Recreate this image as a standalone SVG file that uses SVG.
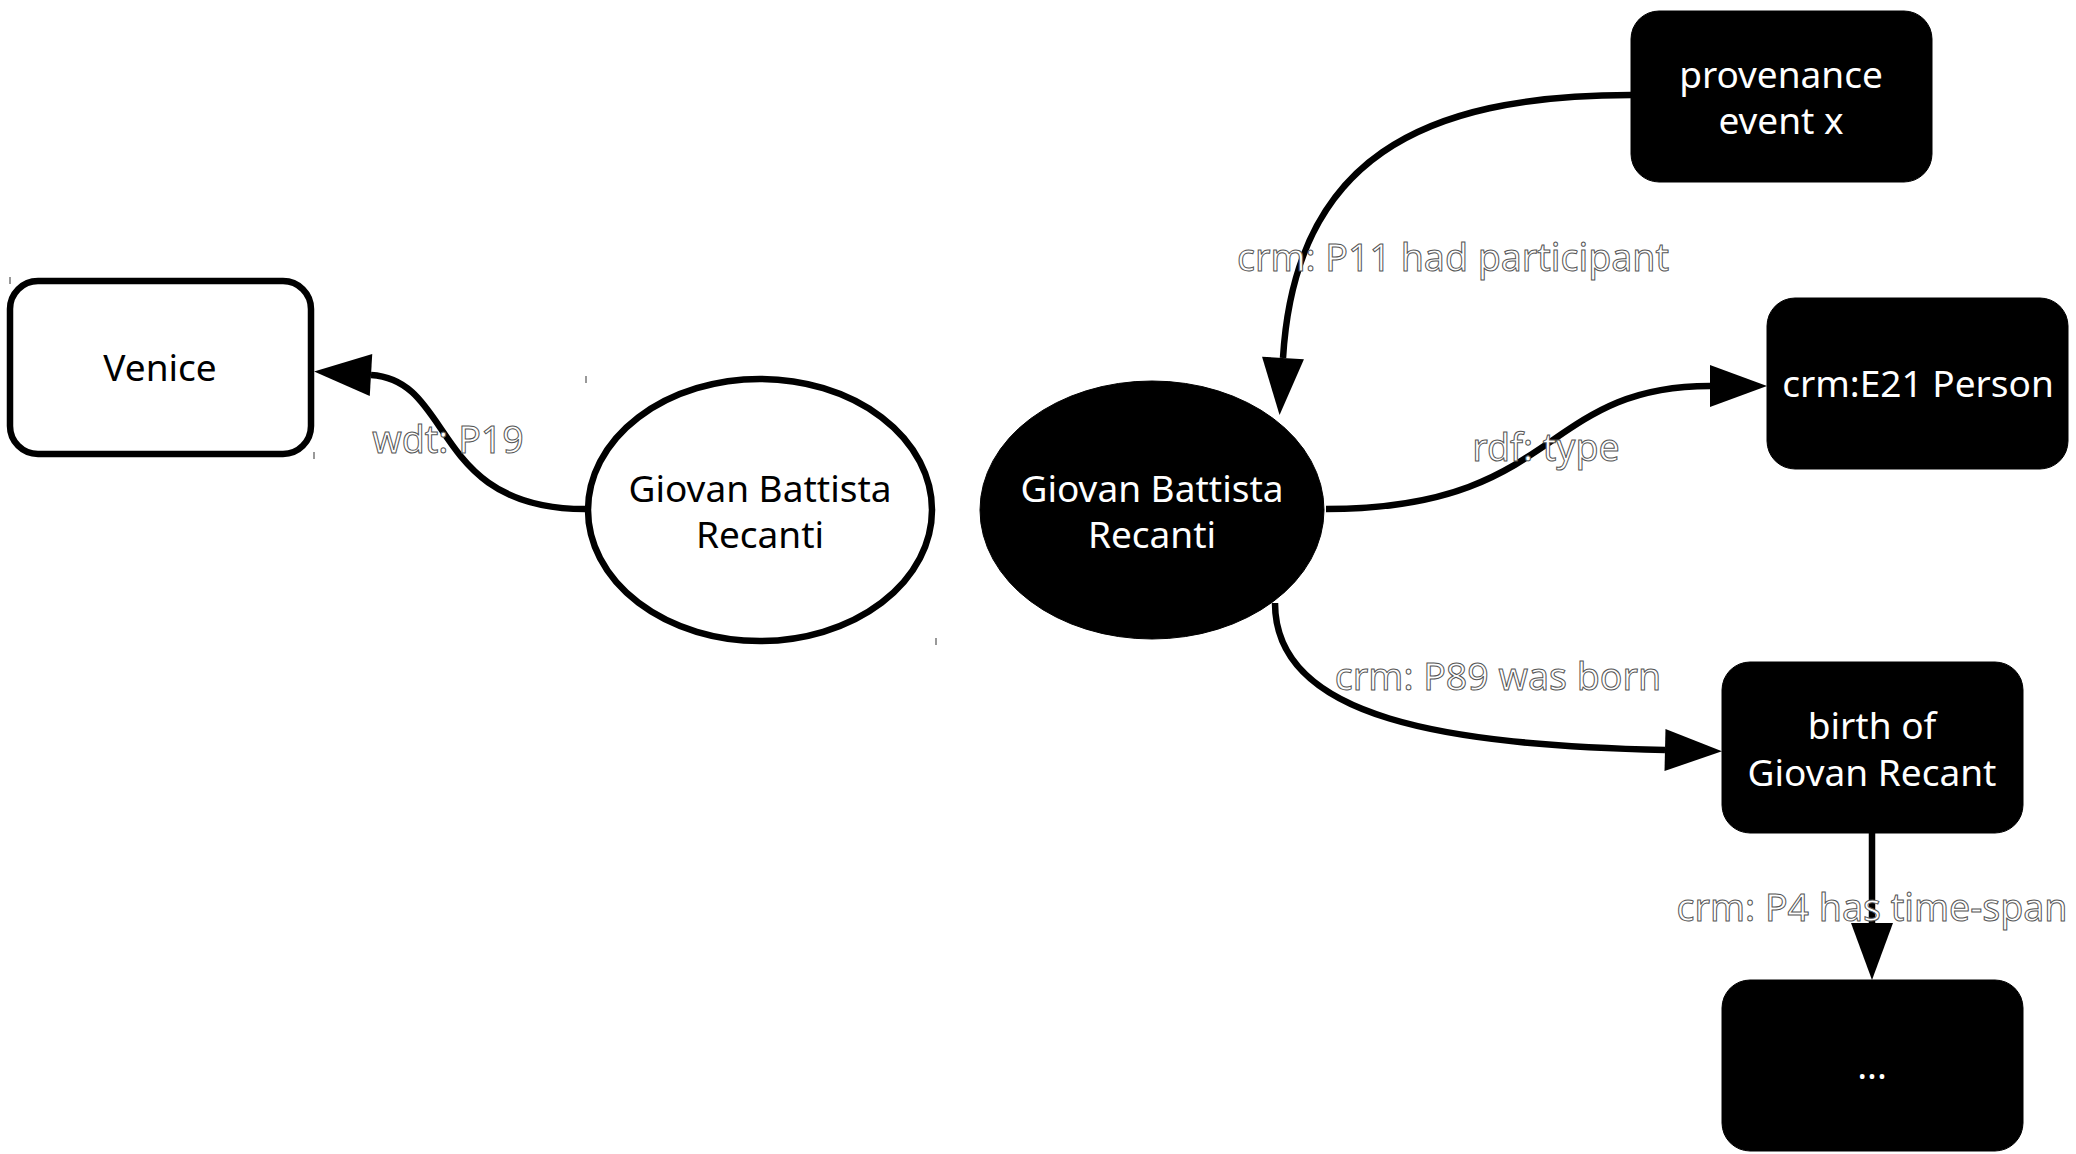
<svg xmlns="http://www.w3.org/2000/svg" width="2076" height="1154" viewBox="0 0 2076 1154">
<style>
.nt{font-family:"Noto Sans","Open Sans",sans-serif;font-size:37px;text-anchor:middle}
.w{fill:#000}
.b{fill:#fff}
.lbl{font-family:"Noto Sans","Open Sans",sans-serif;font-size:37.5px;text-anchor:middle;fill:#fff;stroke:#555;stroke-width:1}
.edge{fill:none;stroke:#000;stroke-width:6.5}
.wn{fill:#fff;stroke:#000;stroke-width:6.5}
.bn{fill:#000;stroke:#000;stroke-width:1}
.tick{stroke:#777;stroke-width:1.5}
</style>
<defs>
<marker id="ah" markerUnits="userSpaceOnUse" viewBox="0 -22 58 44" refX="0" refY="0" markerWidth="58" markerHeight="44" orient="auto" overflow="visible">
<path d="M0,-21 L57,0 L0,21 z" fill="#000"/>
</marker>
</defs>
<rect width="2076" height="1154" fill="#fff"/>
<g id="ticks">
<line class="tick" x1="10" y1="277" x2="10" y2="284"/>
<line class="tick" x1="314" y1="452" x2="314" y2="459"/>
<line class="tick" x1="586" y1="376" x2="586" y2="383"/>
<line class="tick" x1="936" y1="638" x2="936" y2="645"/>
</g>
<g id="node-venice">
<rect class="wn" x="10" y="281" width="301" height="173" rx="28"/>
<text class="nt w" x="160" y="381">Venice</text>
</g>
<g id="node-gbr-white">
<ellipse class="wn" cx="760" cy="510" rx="172" ry="131"/>
<text class="nt w" x="760" y="502">Giovan Battista</text>
<text class="nt w" x="760" y="548">Recanti</text>
</g>
<g id="node-gbr-black">
<ellipse class="bn" cx="1152" cy="510" rx="172" ry="129"/>
<text class="nt b" x="1152" y="502">Giovan Battista</text>
<text class="nt b" x="1152" y="548">Recanti</text>
</g>
<g id="node-provenance">
<rect class="bn" x="1631" y="11" width="301" height="171" rx="28"/>
<text class="nt b" x="1781" y="88">provenance</text>
<text class="nt b" x="1781" y="134">event x</text>
</g>
<g id="node-e21">
<rect class="bn" x="1767" y="298" width="301" height="171" rx="28"/>
<text class="nt b" x="1918" y="397">crm:E21 Person</text>
</g>
<g id="node-birth">
<rect class="bn" x="1722" y="662" width="301" height="171" rx="28"/>
<text class="nt b" x="1872" y="739">birth of</text>
<text class="nt b" x="1872" y="786">Giovan Recant</text>
</g>
<g id="node-ellipsis">
<rect class="bn" x="1722" y="980" width="301" height="171" rx="28"/>
<text class="nt b" x="1872" y="1079">...</text>
</g>
<g id="connectors">
<path class="edge" d="M585,509 C430,509 455,380 371,375" marker-end="url(#ah)"/>
<path class="edge" d="M1631,95 C1420,95 1295,160 1283,358" marker-end="url(#ah)"/>
<path class="edge" d="M1326,509 C1560,509 1540,386 1710,386" marker-end="url(#ah)"/>
<path class="edge" d="M1275,603 C1275,720 1450,745 1665,750" marker-end="url(#ah)"/>
<path class="edge" d="M1872,833 L1872,923" marker-end="url(#ah)"/>
<text class="lbl" x="448" y="453">wdt: P19</text>
<text class="lbl" x="1453" y="271">crm: P11 had participant</text>
<text class="lbl" x="1546" y="461">rdf: type</text>
<text class="lbl" x="1498" y="690">crm: P89 was born</text>
<text class="lbl" x="1872" y="921">crm: P4 has time-span</text>
</g>
</svg>
